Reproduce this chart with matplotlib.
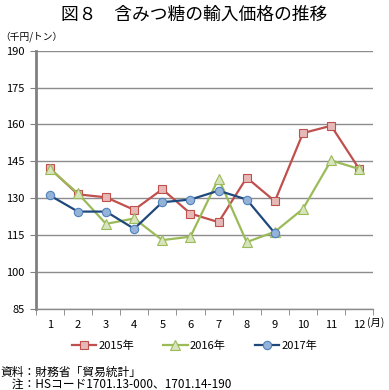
import matplotlib
matplotlib.use("Agg")
import matplotlib.pyplot as plt
from matplotlib.ticker import FixedLocator, NullFormatter

plt.rcParams['font.family'] = ['Noto Sans CJK JP', 'DejaVu Sans']

months = list(range(1, 13))
month_labels = [str(m) for m in months]
y_ticks = [85, 100, 115, 130, 145, 160, 175, 190]

series_names = ["2015年", "2016年", "2017年"]
v2015 = [142.2, 131.6, 130.4, 125.3, 133.7, 123.8, 120.3, 138.4, 128.8, 156.5, 159.5, 141.9]
v2016 = [142.0, 132.0, 119.6, 121.8, 113.0, 114.4, 138.0, 112.2, 116.4, 125.7, 145.4, 141.9]
v2017 = [131.2, 124.6, 124.6, 117.6, 128.4, 129.5, 133.1, 129.5, 115.8]

styles = [
    dict(color="#C0504D", marker="s", mfc="#E6B9B8", mec="#C0504D", ms=6),
    dict(color="#9BBB59", marker="^", mfc="#D7E4BD", mec="#9BBB59", ms=6.5),
    dict(color="#1F497D", marker="o", mfc="#95B3D7", mec="#4F81BD", ms=6),
]

fig = plt.figure(figsize=(3.89, 3.90), dpi=100)
ax = fig.add_axes([0.0918, 0.2077, 0.8679, 0.6623])

for name, vals, st in zip(series_names, [v2015, v2016, v2017], styles):
    ax.plot(months[:len(vals)], vals, lw=1.6, mew=0.8, label=name, **st, zorder=3)

ax.set_xlim(0.5, 12.5)
ax.set_ylim(85, 190)
ax.set_yticks(y_ticks)
ax.set_yticklabels([str(t) for t in y_ticks], fontsize=8)
ax.set_xticks(months)
ax.set_xticklabels(month_labels, fontsize=8)
ax.tick_params(axis='x', length=0, pad=8)
ax.xaxis.set_minor_locator(FixedLocator([m + 0.5 for m in range(0, 13)]))
ax.xaxis.set_minor_formatter(NullFormatter())
ax.tick_params(axis='x', which='minor', length=4, color="#808080", direction='out')
ax.tick_params(axis='y', length=4, color="#808080", direction='out', pad=4)
ax.grid(axis='y', color="#8C8C8C", lw=1.0, zorder=0)
for s in ['top', 'right']:
    ax.spines[s].set_visible(False)
ax.spines['left'].set_color("#808080")
ax.spines['left'].set_linewidth(2.0)
ax.spines['bottom'].set_color("#8C8C8C")
ax.spines['bottom'].set_linewidth(1.0)

fig.text(367 / 389, 1 - 323 / 390, "(月)", fontsize=7.5, ha='left', va='center')

fig.text(0.5, 0.963, "図８　含みつ糖の輸入価格の推移", fontsize=12.8, ha='center', va='center')
fig.text(0.0, 0.905, "（千円/トン）", fontsize=7, ha='left', va='center')

leg = fig.legend(loc='center', bbox_to_anchor=(0.5, 0.113), ncol=3, frameon=False,
                 fontsize=8, handlelength=2.2, columnspacing=2.6, handletextpad=0.2)

fig.text(0.0, 0.046, "資料：財務省「貿易統計」", fontsize=8.5, ha='left', va='center')
fig.text(0.0, 0.015, "　注：HSコード1701.13-000、1701.14-190", fontsize=8.5, ha='left', va='center')

fig.savefig("out.png", dpi=100)
